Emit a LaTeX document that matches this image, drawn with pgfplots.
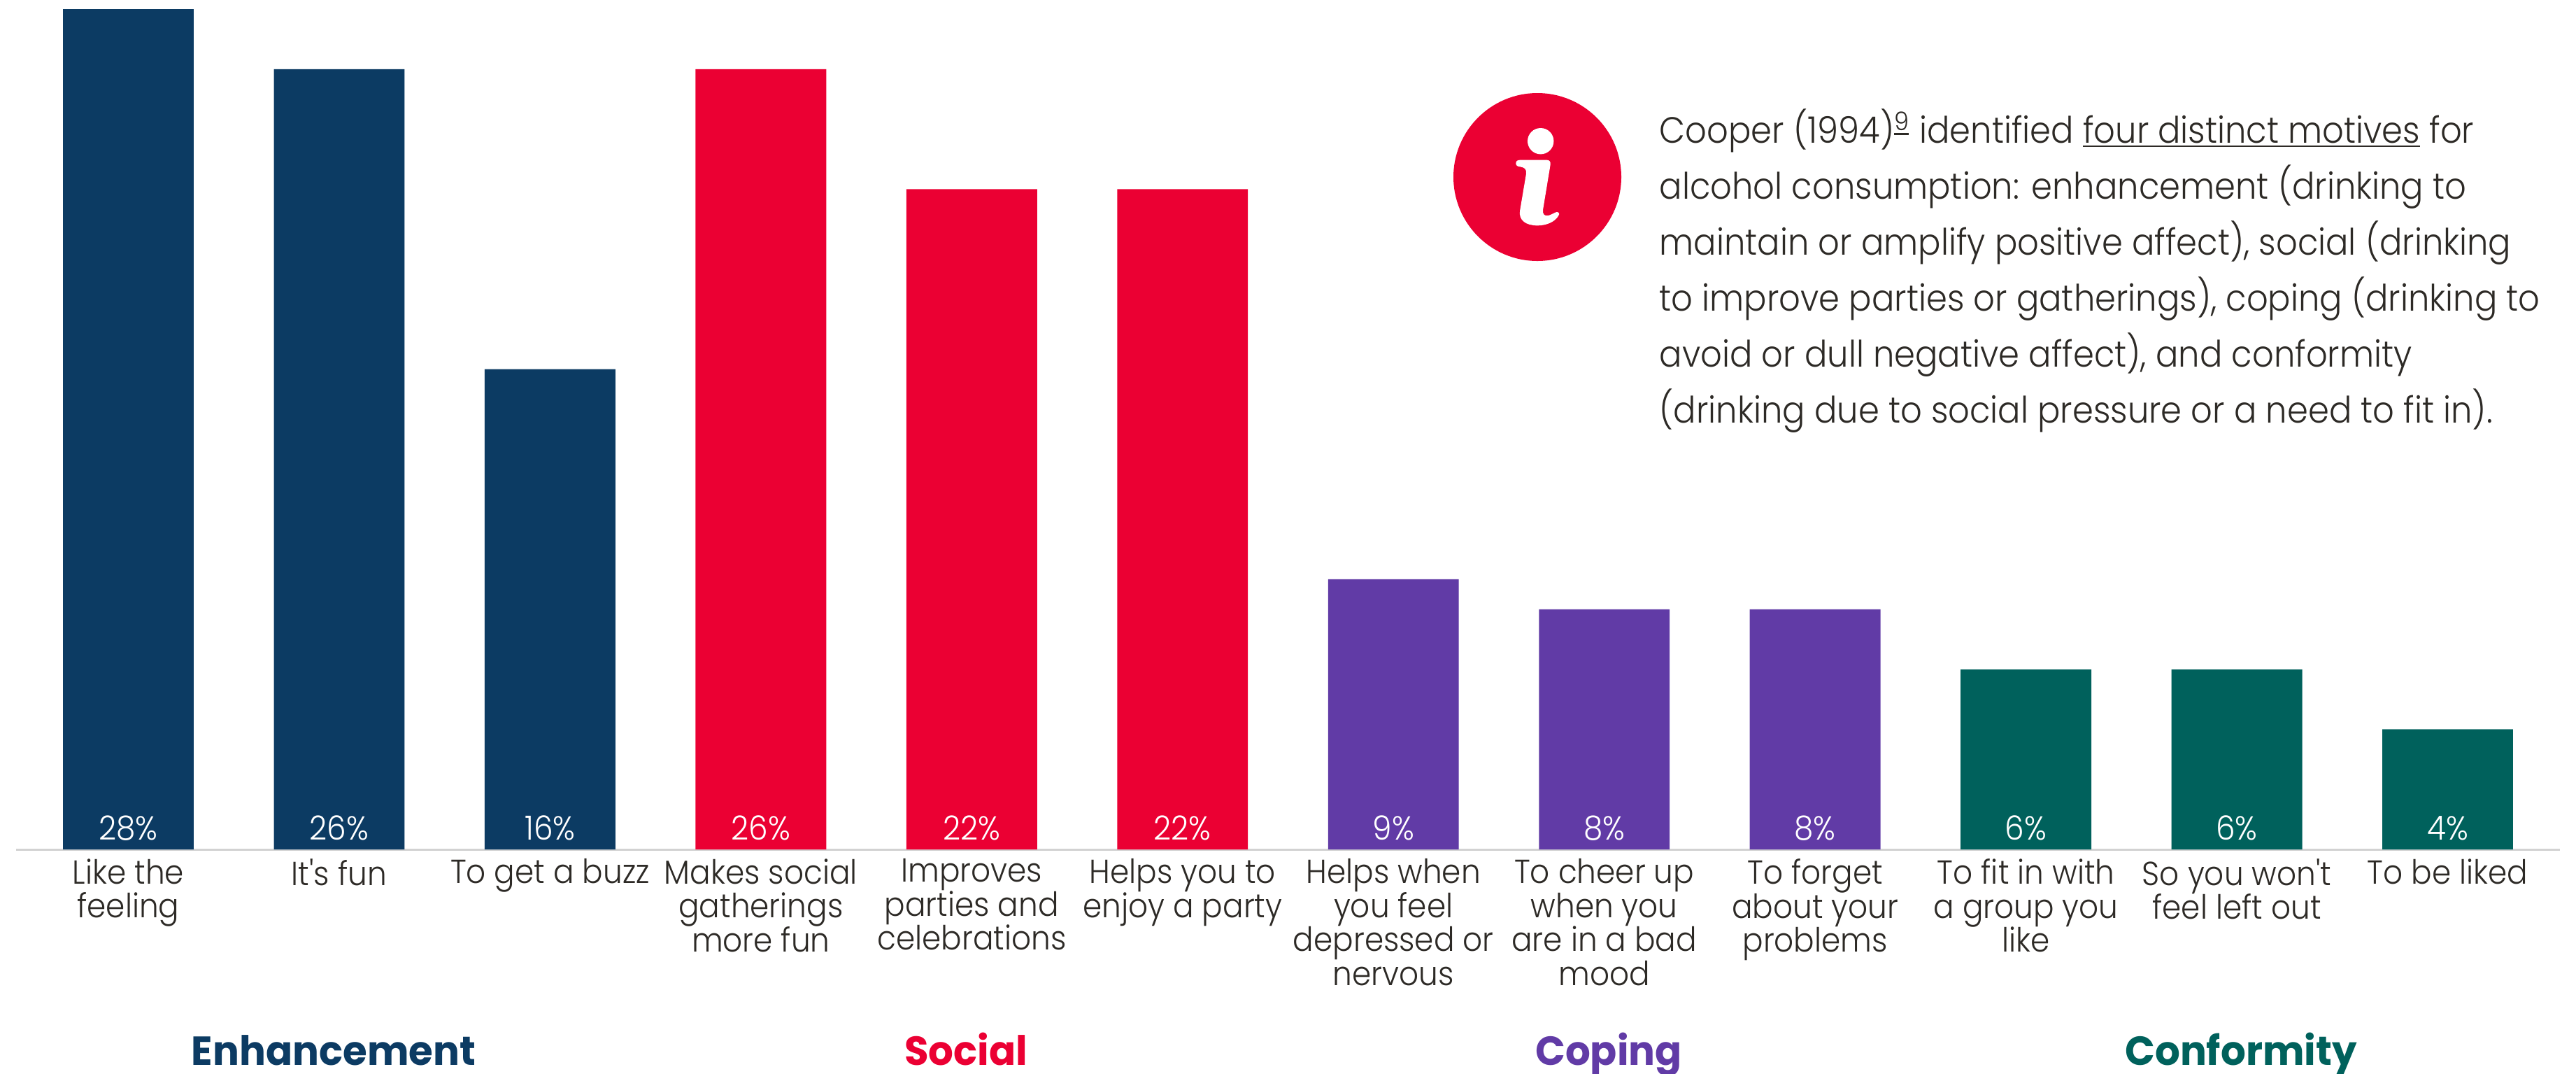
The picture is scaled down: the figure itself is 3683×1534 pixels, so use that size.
\documentclass[border=0pt]{standalone}
\usepackage{fontspec}
\usepackage{pgfplots}
\usepackage{pgfplotstable}
\pgfplotsset{compat=1.18}
\setmainfont{Poppins}[UprightFont=* Light,BoldFont=* Bold,Ligatures=TeXOff,
  UprightFeatures={FakeStretch=0.92},BoldFeatures={FakeStretch=0.97}]
\definecolor{enh}{HTML}{0C3B63}
\definecolor{soc}{HTML}{EB0033}
\definecolor{cop}{HTML}{613BA6}
\definecolor{con}{HTML}{00615C}
\definecolor{ink}{HTML}{2D2A26}
\definecolor{rulegrey}{HTML}{D2D2D2}

% Keep multi-line labels on an even leading
\setlength\normallineskiplimit{-20pt}
\setlength\lineskiplimit{-20pt}

% Share of respondents naming each drinking motive, by motive family
\pgfplotstableread{
x y
0 28
1 26
2 16
}\enhancement
\pgfplotstableread{
x y
3 26
4 22
5 22
}\social
\pgfplotstableread{
x y
6 9
7 8
8 8
}\coping
\pgfplotstableread{
x y
9 6
10 6
11 4
}\conformity

\newcommand\pctlabels[1]{%
  \addplot[draw=none, mark=none, forget plot,
    nodes near coords={\pgfmathprintnumber[precision=0]{\pgfplotspointmeta}\%},
    point meta=explicit,
    every node near coord/.append style={anchor=base, text=white, inner sep=0pt,
      yshift=3.3pt, font=\fontsize{11.9}{12}\selectfont}]
    table[x=x, y expr=0, meta=y] {#1};}

% Underline set a fixed distance under the baseline
\newcommand\lowline[1]{\setbox0\hbox{#1}\rlap{\rule[-1.6pt]{\wd0}{0.65pt}}#1}

\begin{document}
\begin{tikzpicture}[x=0.25pt, y=-0.25pt]
\path[use as bounding box] (0,0) rectangle (3683,1534);
\begin{axis}[
  at={(5.75pt,-303.5pt)}, anchor=south west,
  scale only axis, width=909.25pt, height=300.25pt,
  xmin=-0.5324, xmax=11.5324, ymin=0, ymax=28,
  clip=false,
  axis y line=none, axis x line*=bottom,
  axis line style={draw=rulegrey, line width=0.75pt, -},
  ytick=\empty,
  xtick={0,...,11},
  major tick length=0pt,
  xticklabels={
    {Like the\\feeling},
    {It's fun},
    {To get a buzz},
    {Makes social\\gatherings\\more fun},
    {Improves\\parties and\\celebrations},
    {Helps you to\\enjoy a party},
    {Helps when\\you feel\\depressed or\\nervous},
    {To cheer up\\when you\\are in a bad\\mood},
    {To forget\\about your\\problems},
    {To fit in with\\a group you\\like},
    {So you won't\\feel left out},
    {To be liked}},
  xticklabel style={align=center, text=ink, inner sep=0pt, yshift=-3.2pt,
    font=\fontsize{11.9}{12.1}\selectfont},
  /pgf/number format/assume math mode=true,
]
\addplot[ybar, bar width=0.62, bar shift=0pt, fill=enh, draw=none] table[x=x,y=y] {\enhancement};
\addplot[ybar, bar width=0.62, bar shift=0pt, fill=soc, draw=none] table[x=x,y=y] {\social};
\addplot[ybar, bar width=0.62, bar shift=0pt, fill=cop, draw=none] table[x=x,y=y] {\coping};
\addplot[ybar, bar width=0.62, bar shift=0pt, fill=con, draw=none] table[x=x,y=y] {\conformity};
\pctlabels{\enhancement}
\pctlabels{\social}
\pctlabels{\coping}
\pctlabels{\conformity}
\end{axis}

% Motive family headings
\foreach \cx/\col/\name in {477/enh/Enhancement, 1381/soc/Social, 2300/cop/Coping, 3204/con/Conformity}
  \node[anchor=base, text=\col, inner sep=0pt, font=\fontsize{14.5}{15}\selectfont\bfseries] at (\cx,1522) {\name};

% Information badge: disc, dot and hooked stem of the letter
\fill[soc] (2198,253) circle[radius=120];
\fill[white] (2202.7,201.7) circle[radius=18.7];
\begin{scope}[shift={(2060,120)}, x=0.08333pt, y=-0.08333pt]
\fill[white] (322,340) .. controls (322,330) and (330,326) .. (340,326)
  -- (455,326) .. controls (466,326) and (472,334) .. (470,346)
  -- (438,540) .. controls (436,560) and (446,568) .. (462,564)
  .. controls (476,560) and (490,550) .. (498,549)
  .. controls (508,550) and (510,558) .. (504,566)
  .. controls (490,590) and (455,607) .. (415,607)
  .. controls (365,607) and (334,585) .. (339,545)
  -- (366,385) .. controls (368,365) and (360,358) .. (340,355)
  .. controls (328,353) and (322,350) .. (322,340) -- cycle;
\end{scope}

% Explanatory note
\node[anchor=base west, align=left, inner sep=0pt, text=ink,
      font=\fontsize{13.05}{20}\selectfont] at (2372,604)
 {Cooper (1994)\textsuperscript{\lowline{9}} identified \lowline{four distinct motives} for\\
  alcohol consumption: enhancement (drinking to\\
  maintain or amplify positive affect), social (drinking\\
  to improve parties or gatherings), coping (drinking to\\
  avoid or dull negative affect), and conformity\\
  (drinking due to social pressure or a need to fit in).};
\end{tikzpicture}
\end{document}
